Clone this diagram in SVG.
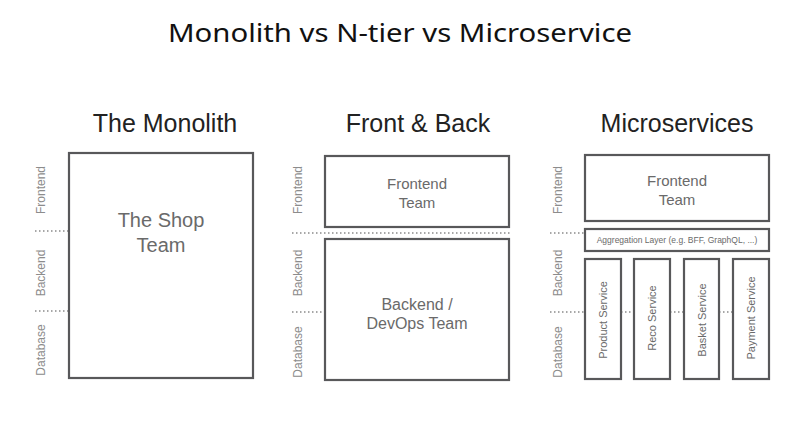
<svg xmlns="http://www.w3.org/2000/svg" width="786" height="427" viewBox="0 0 786 427">
<style>
.box{fill:#fff;stroke:#58585a;stroke-width:2.2}
.dot{stroke:#8a8a8a;stroke-width:1.3;stroke-dasharray:1.5 2.5;fill:none}
.side{font-family:"Liberation Sans",Arial,sans-serif;font-size:12px;fill:#8c8c8c;text-anchor:middle;dominant-baseline:central}
.head{font-family:"Liberation Sans",Arial,sans-serif;font-size:25px;fill:#222;text-anchor:middle}
.lbl{font-family:"Liberation Sans",Arial,sans-serif;fill:#6a6a6a;text-anchor:middle;dominant-baseline:central}
.svc{font-family:"Liberation Sans",Arial,sans-serif;font-size:11px;fill:#6a6a6a;text-anchor:middle;dominant-baseline:central}
</style>
<rect width="786" height="427" fill="#fff"/>
<text x="400" y="42" font-family="'Noto Sans','Liberation Sans',sans-serif" font-size="25" fill="#111" text-anchor="middle" textLength="464" lengthAdjust="spacingAndGlyphs">Monolith vs N-tier vs Microservice</text>
<text class="head" x="165" y="132">The Monolith</text>
<text class="head" x="418" y="132">Front &amp; Back</text>
<text class="head" x="677" y="132">Microservices</text>

<g id="connectors">
<line class="dot" x1="35" y1="231" x2="69" y2="231"/>
<line class="dot" x1="35" y1="311" x2="69" y2="311"/>
<line class="dot" x1="292" y1="233" x2="510" y2="233"/>
<line class="dot" x1="292" y1="312" x2="325" y2="312"/>
<line class="dot" x1="550" y1="233" x2="585" y2="233"/>
<line class="dot" x1="550" y1="312" x2="585" y2="312"/>
<line class="dot" x1="621" y1="312" x2="634" y2="312"/>
<line class="dot" x1="670" y1="312" x2="684" y2="312"/>
<line class="dot" x1="719" y1="312" x2="733" y2="312"/>
</g>

<g id="side-labels">
<text class="side" transform="translate(41,190) rotate(-90)">Frontend</text>
<text class="side" transform="translate(41,273) rotate(-90)">Backend</text>
<text class="side" transform="translate(41,350) rotate(-90)">Database</text>
<text class="side" transform="translate(298,190) rotate(-90)">Frontend</text>
<text class="side" transform="translate(298,273) rotate(-90)">Backend</text>
<text class="side" transform="translate(298,352) rotate(-90)">Database</text>
<text class="side" transform="translate(558,190) rotate(-90)">Frontend</text>
<text class="side" transform="translate(558,273) rotate(-90)">Backend</text>
<text class="side" transform="translate(558,352) rotate(-90)">Database</text>
</g>

<g id="shop-team">
<rect class="box" x="69" y="153" width="184" height="225"/>
<text class="lbl" font-size="20" x="161" y="220">The Shop</text>
<text class="lbl" font-size="20" x="161" y="245">Team</text>
</g>

<g id="fb-frontend">
<rect class="box" x="325" y="156" width="184" height="71"/>
<text class="lbl" font-size="15" x="417" y="183">Frontend</text>
<text class="lbl" font-size="15" x="417" y="202">Team</text>
</g>

<g id="fb-backend">
<rect class="box" x="325" y="239" width="184" height="141"/>
<text class="lbl" font-size="16" x="417" y="304">Backend /</text>
<text class="lbl" font-size="16" x="417" y="323">DevOps Team</text>
</g>

<g id="ms-frontend">
<rect class="box" x="585" y="155" width="184" height="66"/>
<text class="lbl" font-size="15" x="677" y="180">Frontend</text>
<text class="lbl" font-size="15" x="677" y="199">Team</text>
</g>

<g id="ms-aggregation">
<rect class="box" x="585" y="229" width="184" height="22"/>
<text class="lbl" font-size="8.5" x="677" y="240">Aggregation Layer (e.g. BFF, GraphQL, ...)</text>
</g>

<g id="product-service">
<rect class="box" x="585" y="259" width="36" height="120"/>
<text class="svc" transform="translate(603,320) rotate(-90)">Product Service</text>
</g>
<g id="reco-service">
<rect class="box" x="634" y="259" width="36" height="120"/>
<text class="svc" transform="translate(652,318) rotate(-90)">Reco Service</text>
</g>
<g id="basket-service">
<rect class="box" x="684" y="259" width="35" height="120"/>
<text class="svc" transform="translate(701.5,320) rotate(-90)">Basket Service</text>
</g>
<g id="payment-service">
<rect class="box" x="733" y="259" width="36" height="120"/>
<text class="svc" transform="translate(751,318) rotate(-90)">Payment Service</text>
</g>
</svg>
